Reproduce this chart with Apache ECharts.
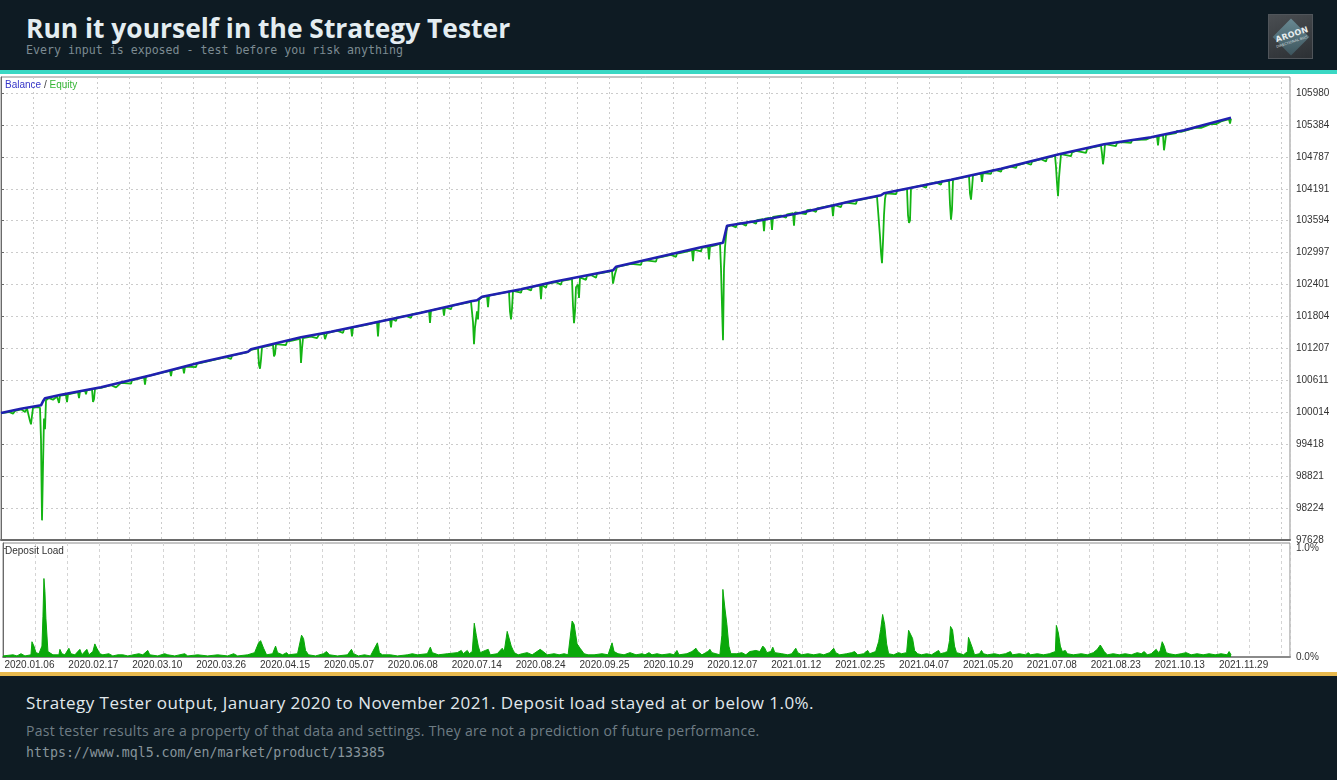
<!DOCTYPE html>
<html>
<head>
<meta charset="utf-8">
<script src="https://cdn.jsdelivr.net/npm/echarts@6/dist/echarts.min.js"></script>
<style>
  html,body{margin:0;padding:0;width:1337px;height:780px;overflow:hidden;background:#0e1b23;}
  #header{position:absolute;left:0;top:0;width:1337px;height:70px;background:#0e1b23;}
  #teal{position:absolute;left:0;top:70px;width:1337px;height:4px;background:#3ad8c4;}
  #title{position:absolute;left:26px;top:10px;font-family:'Open Sans',Lato,sans-serif;font-weight:700;font-size:26.4px;color:#e4edf1;white-space:nowrap;}
  #subtitle{position:absolute;left:26px;top:43px;font-family:'DejaVu Sans Mono',monospace;font-size:11.6px;color:#7c8b92;white-space:nowrap;}
  #logo{position:absolute;left:1268px;top:14px;width:45px;height:45px;background:linear-gradient(160deg,#4a4e52,#2c3034);box-sizing:border-box;border:1px solid #50555a;overflow:hidden;}
  #logo .dia{position:absolute;left:9px;top:9px;width:26px;height:26px;transform:rotate(45deg);background:linear-gradient(135deg,#6f95a0,#3f5a63);opacity:0.85;}
  #logo .t1{position:absolute;left:4px;top:15px;width:38px;text-align:center;font-family:'DejaVu Sans',sans-serif;font-weight:700;font-size:8px;color:#e8eef0;transform:rotate(-18deg);letter-spacing:0.3px;}
  #logo .t2{position:absolute;left:3px;top:25px;width:40px;text-align:center;font-family:'DejaVu Sans',sans-serif;font-size:3.5px;color:#d0dade;transform:rotate(-18deg);}
  #chart{position:absolute;left:0;top:74px;width:1337px;height:598px;background:#ffffff;}
  #gold{position:absolute;left:0;top:672px;width:1337px;height:4px;background:#e8b94d;}
  #footer{position:absolute;left:0;top:676px;width:1337px;height:104px;background:#0e1b23;}
  #f1{position:absolute;left:26px;top:15px;font-family:'Open Sans',Lato,sans-serif;font-size:17px;letter-spacing:0.45px;color:#e1e8ec;white-space:nowrap;}
  #f2{position:absolute;left:26px;top:45px;font-family:'Open Sans',Lato,sans-serif;font-size:14px;letter-spacing:0.3px;color:#6e7d85;white-space:nowrap;}
  #f3{position:absolute;left:26px;top:69px;font-family:'DejaVu Sans Mono',monospace;font-size:13.25px;color:#87949b;white-space:nowrap;}
</style>
</head>
<body>
<div id="header">
  <div id="title">Run it yourself in the Strategy Tester</div>
  <div id="subtitle">Every input is exposed - test before you risk anything</div>
  <div id="logo"><div class="dia"></div><div class="t1">AROON</div><div class="t2">DIRECTIONAL BIAS</div></div>
</div>
<div id="teal"></div>
<div id="chart"></div>
<div id="gold"></div>
<div id="footer">
  <div id="f1">Strategy Tester output, January 2020 to November 2021. Deposit load stayed at or below 1.0%.</div>
  <div id="f2">Past tester results are a property of that data and settings. They are not a prediction of future performance.</div>
  <div id="f3">https://www.mql5.com/en/market/product/133385</div>
</div>
<script>
// ---- tick labels ----
const dateLabels = ['2020.01.06','2020.02.17','2020.03.10','2020.03.26','2020.04.15','2020.05.07','2020.06.08','2020.07.14','2020.08.24','2020.09.25','2020.10.29','2020.12.07','2021.01.12','2021.02.25','2021.04.07','2021.05.20','2021.07.08','2021.08.23','2021.10.13','2021.11.29'];
const balanceTicks = [97628,98224,98821,99418,100014,100611,101207,101804,102401,102997,103594,104191,104787,105384,105980];
const loadTicks = [0, 1.0];

// ---- series values: [deal index, value] ----
const balance = [[0,100000],[20,100080],[40,100145],[42,100220],[44,100276],[60,100341],[100,100481],[150,100706],[200,100948],[247,101145],[250,101192],[300,101416],[330,101519],[380,101715],[420,101874],[470,102089],[476,102107],[481,102173],[520,102313],[553,102453],[612,102668],[615,102733],[650,102883],[700,103098],[722,103182],[724,103341],[726,103500],[760,103603],[800,103743],[850,103958],[880,104070],[883,104107],[950,104360],[1000,104565],[1058,104836],[1103,105023],[1150,105154],[1183,105285],[1230,105519]];

const equity = [[0,100000],[8,100020],[12,99990],[14,100040],[20,100070],[24,100020],[26,100085],[28,100050],[29,99850],[30,99790],[31,99950],[32,100095],[36,100110],[38,100120],[39,100100],[40,99500],[41,97995],[42,99000],[43,99900],[44,99700],[45,100240],[48,100280],[52,100250],[56,100310],[58,100190],[59,100325],[65,100340],[66,100205],[67,100350],[77,100390],[78,100280],[79,100405],[84,100420],[85,100350],[86,100430],[91,100445],[92,100206],[93,100260],[94,100455],[100,100470],[110,100520],[115,100480],[120,100565],[130,100550],[131,100612],[143,100670],[144,100530],[145,100680],[160,100750],[169,100790],[170,100690],[171,100800],[182,100855],[183,100740],[184,100870],[195,100860],[196,100925],[200,100940],[215,101005],[225,101045],[230,101010],[231,101075],[235,101090],[246,101135],[250,101180],[257,101210],[258,100900],[259,100830],[260,101000],[261,101230],[266,101250],[272,101275],[273,101060],[274,101100],[275,101290],[285,101270],[286,101335],[290,101350],[299,101385],[300,100935],[301,101200],[302,101400],[310,101430],[316,101400],[318,101465],[323,101485],[324,101380],[325,101360],[326,101495],[336,101540],[342,101500],[343,101565],[350,101590],[351,101434],[352,101600],[365,101650],[376,101700],[377,101434],[378,101710],[389,101750],[390,101600],[391,101760],[395,101720],[396,101785],[405,101815],[410,101780],[411,101845],[428,101910],[429,101683],[430,101920],[442,101965],[443,101820],[444,101975],[450,101940],[451,102005],[455,102020],[465,102060],[470,102080],[472,101700],[473,101285],[474,101600],[476,101900],[477,101750],[478,102120],[481,102165],[486,102185],[487,101980],[488,102195],[500,102240],[508,102270],[509,101900],[510,101749],[511,101950],[512,102285],[520,102250],[521,102320],[525,102330],[530,102290],[531,102360],[539,102385],[540,102130],[541,102395],[545,102340],[546,102415],[555,102445],[560,102400],[561,102470],[565,102485],[571,102505],[572,102000],[573,101680],[574,101900],[575,102350],[577,102400],[578,102150],[579,102535],[585,102490],[586,102565],[590,102580],[595,102530],[596,102605],[600,102615],[608,102645],[611,102660],[612,102420],[613,102406],[614,102600],[616,102730],[630,102790],[640,102770],[641,102840],[645,102855],[655,102830],[656,102900],[660,102915],[670,102955],[675,102920],[676,102980],[680,102995],[691,103040],[692,102840],[693,103055],[700,103020],[701,103090],[707,103100],[708,102870],[709,103110],[715,103140],[719,103165],[720,102700],[721,102000],[722,101360],[723,102700],[724,103100],[725,103300],[726,103480],[730,103510],[735,103470],[736,103535],[740,103550],[745,103500],[746,103570],[750,103580],[755,103540],[756,103605],[762,103625],[763,103400],[764,103635],[770,103650],[771,103420],[772,103665],[780,103690],[785,103650],[786,103715],[792,103735],[793,103500],[794,103750],[805,103720],[806,103790],[810,103800],[815,103760],[816,103825],[820,103840],[831,103880],[832,103680],[833,103890],[840,103850],[841,103920],[845,103935],[855,103910],[856,103975],[860,103990],[870,104025],[876,104045],[877,103800],[879,103300],[880,103000],[881,102800],[882,103200],[883,103700],[884,104000],[885,104105],[895,104090],[896,104155],[906,104190],[907,103700],[908,103552],[909,103600],[910,104210],[920,104250],[925,104210],[926,104275],[935,104310],[940,104270],[941,104335],[948,104345],[949,103900],[950,103615],[951,103800],[952,104365],[960,104395],[968,104428],[969,104100],[970,103990],[971,104200],[972,104445],[980,104475],[981,104320],[982,104485],[990,104470],[991,104535],[995,104540],[1000,104510],[1001,104565],[1010,104605],[1015,104580],[1016,104630],[1025,104675],[1030,104640],[1031,104700],[1040,104745],[1045,104700],[1046,104770],[1054,104810],[1055,104600],[1056,104300],[1057,104051],[1058,104400],[1060,104840],[1070,104800],[1071,104870],[1075,104900],[1085,104860],[1086,104930],[1090,104960],[1100,105000],[1101,104850],[1102,104649],[1103,104800],[1104,105025],[1115,104990],[1116,105050],[1120,105065],[1130,105050],[1131,105100],[1135,105105],[1145,105110],[1146,105140],[1150,105150],[1156,105172],[1157,105000],[1158,105180],[1162,105190],[1163,104911],[1164,105050],[1165,105200],[1175,105230],[1176,105275],[1180,105255],[1195,105335],[1200,105330],[1201,105360],[1210,105405],[1215,105400],[1216,105430],[1220,105450],[1228,105492],[1229,105410],[1230,105500]];

const depositLoad = [[0,0.01],[10,0.02],[14,0.01],[18,0.03],[22,0.01],[28,0.02],[29,0.14],[31,0.1],[33,0.04],[36,0.03],[38,0.02],[39,0.1],[40,0.37],[41,0.72],[42,0.6],[43,0.35],[45,0.05],[50,0.02],[56,0.02],[57,0.07],[59,0.03],[62,0.02],[66,0.08],[68,0.03],[72,0.02],[77,0.07],[79,0.02],[84,0.07],[86,0.02],[90,0.05],[92,0.12],[94,0.08],[97,0.03],[100,0.02],[106,0.03],[110,0.01],[115,0.02],[120,0.02],[125,0.01],[136,0.03],[140,0.02],[145,0.06],[147,0.02],[155,0.01],[162,0.03],[165,0.02],[172,0.01],[182,0.03],[185,0.01],[195,0.02],[205,0.01],[215,0.02],[225,0.01],[231,0.03],[235,0.01],[245,0.02],[252,0.04],[256,0.13],[258,0.15],[261,0.08],[264,0.02],[270,0.03],[273,0.1],[275,0.04],[280,0.02],[284,0.04],[286,0.02],[295,0.03],[299,0.2],[301,0.17],[303,0.06],[306,0.02],[313,0.01],[321,0.03],[324,0.05],[327,0.02],[335,0.01],[345,0.02],[349,0.07],[351,0.03],[356,0.01],[362,0.02],[368,0.01],[375,0.13],[377,0.04],[380,0.02],[388,0.02],[395,0.01],[405,0.02],[410,0.03],[415,0.02],[425,0.03],[428,0.09],[430,0.04],[436,0.02],[445,0.03],[455,0.04],[459,0.06],[461,0.03],[465,0.06],[467,0.03],[470,0.05],[472,0.31],[474,0.2],[476,0.1],[478,0.04],[483,0.06],[486,0.07],[488,0.02],[495,0.03],[500,0.08],[502,0.05],[505,0.235],[507,0.22],[509,0.1],[512,0.04],[516,0.02],[520,0.03],[525,0.04],[530,0.02],[538,0.07],[541,0.05],[545,0.02],[552,0.03],[557,0.02],[562,0.03],[566,0.02],[570,0.33],[572,0.3],[575,0.12],[578,0.08],[582,0.03],[586,0.02],[592,0.02],[600,0.03],[606,0.02],[610,0.13],[612,0.05],[616,0.03],[622,0.02],[628,0.04],[634,0.02],[640,0.03],[643,0.02],[647,0.04],[650,0.02],[655,0.03],[660,0.02],[668,0.03],[672,0.02],[675,0.06],[677,0.02],[685,0.03],[690,0.05],[692,0.04],[694,0.08],[696,0.05],[700,0.02],[706,0.05],[708,0.07],[710,0.04],[714,0.03],[718,0.02],[720,0.2],[721,0.62],[723,0.45],[725,0.3],[727,0.1],[729,0.03],[735,0.03],[740,0.04],[744,0.02],[748,0.05],[750,0.04],[754,0.06],[758,0.05],[761,0.1],[763,0.08],[765,0.04],[769,0.05],[771,0.09],[773,0.04],[780,0.03],[786,0.02],[790,0.03],[794,0.08],[796,0.04],[800,0.02],[806,0.03],[812,0.02],[818,0.03],[822,0.02],[828,0.04],[832,0.08],[834,0.04],[838,0.02],[845,0.03],[850,0.04],[853,0.05],[856,0.02],[862,0.03],[866,0.06],[868,0.03],[874,0.05],[877,0.14],[879,0.25],[881,0.39],[883,0.3],[885,0.12],[887,0.03],[892,0.02],[897,0.04],[900,0.03],[905,0.04],[907,0.245],[909,0.24],[911,0.17],[913,0.06],[916,0.03],[920,0.02],[925,0.03],[930,0.02],[937,0.06],[939,0.03],[943,0.04],[946,0.05],[948,0.15],[949,0.28],[951,0.25],[953,0.1],[955,0.04],[959,0.03],[962,0.02],[966,0.05],[967,0.18],[969,0.17],[971,0.08],[973,0.02],[978,0.03],[980,0.06],[982,0.03],[986,0.02],[993,0.03],[998,0.02],[1004,0.03],[1009,0.05],[1011,0.02],[1018,0.03],[1024,0.02],[1027,0.04],[1029,0.02],[1036,0.03],[1042,0.02],[1048,0.03],[1054,0.05],[1055,0.29],[1057,0.22],[1059,0.1],[1061,0.05],[1064,0.06],[1066,0.03],[1072,0.02],[1080,0.03],[1086,0.02],[1092,0.04],[1096,0.07],[1099,0.11],[1101,0.1],[1103,0.05],[1106,0.02],[1112,0.03],[1118,0.02],[1124,0.03],[1130,0.02],[1136,0.04],[1140,0.03],[1143,0.05],[1146,0.02],[1150,0.03],[1155,0.07],[1157,0.04],[1159,0.06],[1161,0.14],[1163,0.1],[1165,0.04],[1168,0.03],[1174,0.02],[1180,0.03],[1185,0.04],[1190,0.02],[1196,0.03],[1202,0.02],[1208,0.03],[1214,0.02],[1220,0.03],[1226,0.02],[1228,0.05],[1230,0.02]];

// ---- chart ----
const chart = echarts.init(document.getElementById('chart'), null, {renderer:'canvas'});
const FONT = "'Liberation Sans', Arial, sans-serif";
const gridDot = {color:'#cbcbcb', type:[2,3], width:1};
const xFormatter = function(v){
  const k = Math.round(v/32);
  if (k % 2 === 1) { return dateLabels[(k-1)/2] || ''; }
  return '';
};
chart.setOption({
  animation:false,
  backgroundColor:'#ffffff',
  grid:[
    {left:1, right:47, top:3, height:463, show:true, borderColor:'#8c8c8c', borderWidth:1, backgroundColor:'#ffffff'},
    {left:1, right:47, top:469, height:114, show:true, borderColor:'#8c8c8c', borderWidth:1, backgroundColor:'#ffffff'}
  ],
  xAxis:[
    {type:'value', gridIndex:0, min:0, max:1289, interval:32,
     axisLine:{show:true, onZero:false, lineStyle:{color:'#6a6a6a', width:2}},
     axisTick:{show:false}, axisLabel:{show:false},
     splitLine:{show:true, lineStyle:gridDot}},
    {type:'value', gridIndex:1, min:0, max:1289, interval:32,
     axisLine:{show:true, onZero:false, lineStyle:{color:'#8a8a8a', width:2}},
     axisTick:{show:false},
     axisLabel:{show:true, formatter:xFormatter, fontSize:10, color:'#333', fontFamily:FONT, margin:3, padding:[0,11,0,0], showMinLabel:true, showMaxLabel:true},
     splitLine:{show:true, lineStyle:{color:'#d4d4d4', type:[3,3], width:1}}}
  ],
  yAxis:[
    {type:'value', gridIndex:0, position:'right', min:97628, max:106280,
     axisLine:{show:true, lineStyle:{color:'#6a6a6a', width:1}},
     axisTick:{show:true, length:3, customValues:balanceTicks, lineStyle:{color:'#6a6a6a'}},
     axisLabel:{customValues:balanceTicks, formatter:function(v){return String(Math.round(v));}, fontSize:10, color:'#333', fontFamily:FONT, margin:6},
     splitLine:{show:true, lineStyle:gridDot}},
    {type:'value', gridIndex:1, position:'right', min:0, max:1.046,
     axisLine:{show:true, lineStyle:{color:'#6a6a6a', width:1}},
     axisTick:{show:true, length:3, customValues:loadTicks, lineStyle:{color:'#6a6a6a'}},
     axisLabel:{customValues:loadTicks, formatter:function(v){return v.toFixed(1)+'%';}, fontSize:10, color:'#333', fontFamily:FONT, margin:6},
     splitLine:{show:false}}
  ],
  series:[
    {name:'Equity', type:'line', xAxisIndex:0, yAxisIndex:0, data:equity, symbol:'none', silent:true,
     lineStyle:{color:'#14b414', width:1.8}, z:2},
    {name:'Balance', type:'line', xAxisIndex:0, yAxisIndex:0, data:balance, symbol:'none', silent:true,
     lineStyle:{color:'#2020b0', width:2.6}, z:3},
    {name:'Deposit Load', type:'line', xAxisIndex:1, yAxisIndex:1, data:depositLoad, symbol:'none', silent:true,
     lineStyle:{color:'#0aa80a', width:1}, areaStyle:{color:'#0aa80a', opacity:1}, z:2}
  ],
  graphic:[
    {type:'text', left:5, top:6, z:10, style:{text:'{b|Balance}{s| / }{e|Equity}', font:'10px '+FONT,
      rich:{b:{fill:'#3535c8', font:'10px '+FONT}, s:{fill:'#444', font:'10px '+FONT}, e:{fill:'#35b535', font:'10px '+FONT}}}},
    {type:'text', left:5, top:472, z:10, style:{text:'Deposit Load', font:'10px '+FONT, fill:'#333'}}
  ]
});
</script>
</body>
</html>
